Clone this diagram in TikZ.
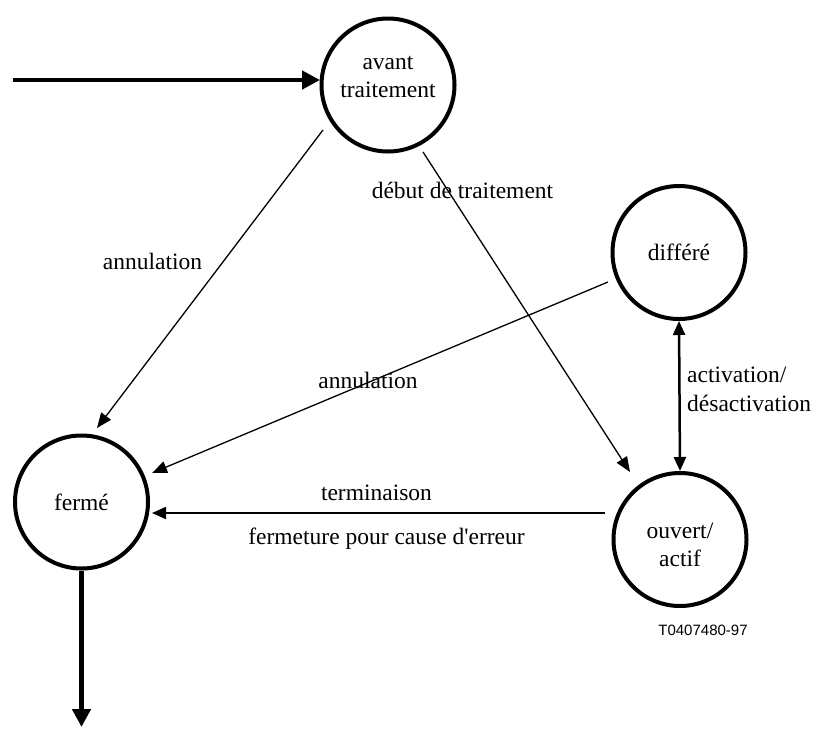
\documentclass[tikz,border=0pt]{standalone}
\usepackage{fontspec}
\setmainfont{Liberation Serif}[Ligatures=TeXOff]
\newfontfamily\figsans{Liberation Sans}
\usetikzlibrary{arrows.meta,calc}
\tikzset{
  state/.style={circle,draw,line width=4pt,minimum size=133pt,inner sep=0pt,font=\fontsize{23.5}{28.2}\selectfont,align=center},
  txt/.style={font=\fontsize{23.5}{28.2}\selectfont,inner sep=0pt,anchor=base},
  thin/.style={line width=1.3pt,-{Triangle[length=15pt,width=12pt]}},
  medium/.style={line width=2pt,-{Triangle[length=14pt,width=12pt]}},
  twoway/.style={line width=2.5pt,{Triangle[length=14pt,width=12pt]}-{Triangle[length=14pt,width=12pt]}},
  heavy/.style={line width=4.5pt,-{Triangle[length=18pt,width=18pt]}}
}
\begin{document}
\begin{tikzpicture}[x=1pt,y=-1pt]
\useasboundingbox (0,0) rectangle (816,729);
% states
\node[state,label={[txt,anchor=center,align=center,yshift=8pt]center:{avant\\traitement}}] (avant) at (388,85) {};
\node[state] (differe) at (679,252.5) {différé};
\node[state] (ferme) at (81.5,502) {fermé};
\node[state,label={[txt,anchor=center,align=center,yshift=-5pt]center:{ouvert/\\actif}}] (ouvert) at (680,539.5) {};
% free ends
\coordinate (entree) at (13,80);
\coordinate (sortie) at (81.5,727);
% connectors
\draw[heavy] (entree) -- ($(avant)+(-68,-5)$);
\draw[heavy] (ferme.south) -- (sortie);
\draw[thin] ($(avant)+(-65,45)$) -- ($(ferme)+(15.5,-74)$);
\draw[thin] ($(avant)+(35,67)$) -- ($(ouvert)+(-50,-67.5)$);
\draw[thin] ($(differe)+(-71,29.5)$) -- ($(ferme)+(70.5,-29)$);
\draw[twoway] (differe.south) -- (ouvert.north);
\draw[medium] ($(ouvert)+(-75,-26.5)$) -- ($(ferme)+(70.5,11)$);
% labels
\node[txt] (l1) at (152.5,269) {annulation};
\node[txt] (l2) at (462.5,198) {début de traitement};
\node[txt] (l3) at (368,388) {annulation};
\node[txt,anchor=base west,align=left] (l4) at (687,411) {activation/\\désactivation};
\node[txt] (l5) at (376.5,500) {terminaison};
\node[txt] (l6) at (386.5,544) {fermeture pour cause d'erreur};
\node[inner sep=0pt,anchor=base,font=\figsans\fontsize{15}{18}\selectfont] (ref) at (703,635) {T0407480-97};
\end{tikzpicture}
\end{document}
